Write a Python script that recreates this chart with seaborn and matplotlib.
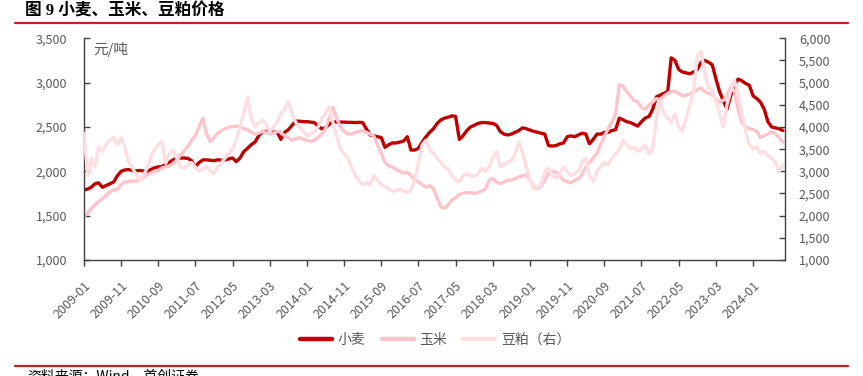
import numpy as np
import pandas as pd
import seaborn as sns
import matplotlib.pyplot as plt
import matplotlib.dates as mdates
from matplotlib.ticker import FuncFormatter, MultipleLocator
from matplotlib.lines import Line2D

# DATA (monthly, 2009-01 .. 2024-09, yuan/ton)
wheat = [1790, 1800, 1820, 1860, 1870, 1820, 1840, 1860, 1880, 1950, 2000, 2015,
         2020, 2010, 2005, 2010, 2005, 2000, 2020, 2040, 2050, 2052, 2080, 2100,
         2130, 2146, 2150, 2150, 2146, 2120, 2050, 2100, 2128, 2130, 2125, 2120,
         2130, 2125, 2130, 2140, 2150, 2110, 2150, 2222, 2260, 2300, 2330, 2400,
         2447, 2450, 2450, 2440, 2445, 2360, 2440, 2470, 2520, 2567, 2565, 2560,
         2560, 2555, 2550, 2510, 2480, 2490, 2530, 2560, 2555, 2555, 2555, 2552,
         2552, 2550, 2552, 2550, 2480, 2410, 2400, 2390, 2380, 2270, 2300, 2320,
         2320, 2330, 2340, 2390, 2240, 2240, 2260, 2330, 2390, 2440, 2480, 2540,
         2580, 2600, 2610, 2625, 2620, 2360, 2400, 2460, 2500, 2520, 2540, 2550,
         2550, 2545, 2540, 2520, 2450, 2420, 2410, 2420, 2440, 2460, 2490, 2480,
         2465, 2450, 2440, 2430, 2420, 2290, 2285, 2290, 2310, 2320, 2390, 2400,
         2390, 2410, 2430, 2420, 2310, 2360, 2420, 2420, 2440, 2440, 2460, 2470,
         2600, 2580, 2560, 2550, 2530, 2510, 2560, 2600, 2620, 2700, 2840, 2860,
         2880, 2900, 3280, 3250, 3150, 3120, 3110, 3100, 3120, 3150, 3230, 3250,
         3230, 3200, 3050, 2900, 2800, 2700, 2850, 2980, 3040, 3020, 2990, 2970,
         2850, 2820, 2780, 2700, 2560, 2500, 2490, 2480, 2460]
corn = [1490, 1530, 1580, 1620, 1660, 1690, 1730, 1770, 1790, 1795, 1850, 1880,
        1885, 1890, 1890, 1895, 1930, 1958, 1980, 2000, 2010, 2040, 2050, 2060,
        2090, 2130, 2180, 2230, 2280, 2350, 2400, 2500, 2598, 2420, 2334, 2380,
        2430, 2460, 2480, 2500, 2504, 2510, 2500, 2480, 2470, 2440, 2420, 2430,
        2450, 2440, 2420, 2430, 2450, 2440, 2400, 2380, 2350, 2370, 2380, 2360,
        2350, 2340, 2350, 2380, 2420, 2480, 2600, 2720, 2600, 2500, 2450, 2420,
        2420, 2440, 2450, 2460, 2440, 2420, 2400, 2300, 2200, 2100, 2060, 2050,
        2020, 2000, 1980, 1990, 1950, 1900, 1880, 1850, 1820, 1840, 1800, 1700,
        1600, 1583, 1620, 1680, 1700, 1740, 1750, 1760, 1760, 1750, 1760, 1780,
        1800, 1900, 1920, 1880, 1860, 1880, 1900, 1900, 1920, 1940, 1950, 1960,
        1900, 1820, 1808, 1830, 1900, 1980, 2000, 1990, 1950, 1900, 1880, 1870,
        1900, 1920, 1960, 2050, 2100, 2150, 2200, 2300, 2400, 2480, 2550, 2650,
        2980, 2960, 2900, 2850, 2800, 2780, 2720, 2700, 2750, 2780, 2820, 2800,
        2850, 2880, 2900, 2900, 2880, 2850, 2860, 2870, 2900, 2920, 2940, 2900,
        2880, 2860, 2820, 2780, 2800, 2850, 2950, 2900, 2700, 2550, 2500, 2480,
        2470, 2450, 2380, 2400, 2420, 2450, 2420, 2380, 2330]
soymeal = [3860, 2900, 3300, 3100, 3550, 3450, 3600, 3700, 3760, 3600, 3760, 3550,
           3220, 3070, 2950, 2800, 2900, 3068, 3300, 3500, 3600, 3669, 3180, 3400,
           3480, 3300, 3100, 3068, 3143, 3200, 3100, 3000, 3050, 3100, 3000, 2950,
           3100, 3200, 3300, 3400, 3500, 3700, 4000, 4300, 4684, 4200, 4000, 4100,
           4150, 4050, 3900, 4000, 4100, 4300, 4400, 4572, 4300, 4100, 4000, 3900,
           3800, 3850, 3900, 4000, 4200, 4300, 4459, 4100, 3800, 3500, 3400, 3300,
           3100, 2900, 2800, 2692, 2750, 2700, 2900, 2800, 2700, 2650, 2600, 2550,
           2560, 2600, 2550, 2520, 2580, 2800, 3200, 3600, 3700, 3500, 3400, 3300,
           3200, 3100, 3050, 2900, 2800, 2767, 2900, 2950, 2900, 2880, 2950, 3068,
           3000, 3100, 3300, 3444, 3100, 3150, 3200, 3250, 3400, 3669, 3400, 3100,
           2800, 2600, 2650, 2700, 3000, 3068, 2900, 2850, 2950, 3100, 3000, 2900,
           2950, 3000, 3200, 3293, 2900, 2767, 3000, 3100, 3200, 3150, 3300, 3400,
           3500, 3700, 3600, 3500, 3550, 3450, 3500, 3600, 3400, 3500, 4200, 4600,
           4300, 4200, 4100, 4300, 4000, 3900, 4200, 4500, 4800, 5600, 5697, 5200,
           4900, 4800, 4600, 4300, 4000, 4500, 4800, 5059, 4700, 4300, 3900, 3600,
           3500, 3550, 3400, 3450, 3350, 3300, 3200, 3000, 3140]
months = pd.date_range("2009-01-01", periods=len(wheat), freq="MS")
tick_labels = pd.date_range("2009-01-01", "2024-01-01", freq="10MS")

df = pd.DataFrame({"date": months, "小麦": wheat, "玉米": corn, "豆粕": soymeal})

# STYLE
sns.set_style("white")
plt.rcParams["font.family"] = ["Noto Sans CJK SC", "DejaVu Sans"]
grey = "#595959"
c_wheat, c_corn, c_soy = "#C00000", "#FFC4CB", "#FFDEE2"

fig = plt.figure(figsize=(8.63, 3.76), dpi=100)
ax = fig.add_axes([84 / 863, 1 - 260 / 376, 701 / 863, 221.7 / 376])
ax2 = ax.twinx()

sns.lineplot(data=df, x="date", y="小麦", ax=ax, color=c_wheat, linewidth=2.4)
sns.lineplot(data=df, x="date", y="玉米", ax=ax, color=c_corn, linewidth=2.4)
sns.lineplot(data=df, x="date", y="豆粕", ax=ax2, color=c_soy, linewidth=2.4)

ax.set_xlim(pd.Timestamp("2009-01-01"), pd.Timestamp("2024-09-18"))
ax.set_ylim(1000, 3500)
ax2.set_ylim(1000, 6000)
ax.yaxis.set_major_locator(MultipleLocator(500))
ax2.yaxis.set_major_locator(MultipleLocator(500))
fmt = FuncFormatter(lambda v, p: f"{int(v):,}")
ax.yaxis.set_major_formatter(fmt)
ax2.yaxis.set_major_formatter(fmt)

ax.set_xticks(tick_labels)
ax.xaxis.set_major_formatter(mdates.DateFormatter("%Y-%m"))
for lab in ax.get_xticklabels():
    lab.set_rotation(45)
    lab.set_ha("right")
    lab.set_va("top")
    lab.set_rotation_mode("anchor")

ax.set_xlabel("")
ax.set_ylabel("")
ax2.set_ylabel("")

for a in (ax, ax2):
    a.spines["top"].set_visible(False)
    for s in ("left", "right", "bottom"):
        a.spines[s].set_color("#404040")
        a.spines[s].set_linewidth(1.0)
ax.spines["right"].set_visible(False)
ax2.spines["left"].set_visible(False)
ax2.spines["bottom"].set_visible(False)

ax.tick_params(axis="y", direction="in", length=4, width=1, color="#404040",
               labelsize=9, labelcolor=grey, pad=12, left=True)
ax2.tick_params(axis="y", direction="in", length=4, width=1, color="#404040",
                labelsize=9, labelcolor=grey, pad=10, right=True)
ax.tick_params(axis="x", direction="out", length=4, width=1, color="#404040",
               labelsize=9, labelcolor=grey, pad=10, bottom=True)

ax.text(0.013, 0.985, "元/吨", transform=ax.transAxes, ha="left", va="top",
        fontsize=10.5, color=grey)

# LEGEND
handles = [Line2D([], [], color=c, linewidth=3.2) for c in (c_wheat, c_corn, c_soy)]
fig.legend(handles, ["小麦", "玉米", "豆粕（右）"], loc="center",
           bbox_to_anchor=(435 / 863, 1 - 340 / 376), ncol=3, frameon=False,
           fontsize=10, labelcolor=grey, handlelength=2.3, handletextpad=0.4,
           columnspacing=1.2)

# TITLE, RULES, SOURCE
fig.text(25 / 863, 1 - 12 / 376, "图 9 小麦、玉米、豆粕价格", ha="left", va="center",
         fontsize=12, fontweight="bold", color="black",
         family=["Liberation Serif", "Noto Sans CJK SC"])
fig.add_artist(Line2D([15 / 863, 848 / 863], [1 - 22.5 / 376] * 2,
                      color="#C8202A", linewidth=1.6))
fig.add_artist(Line2D([15 / 863, 848 / 863], [1 - 366 / 376] * 2,
                      color="#C8202A", linewidth=1.6))
fig.text(27 / 863, 1 - 369 / 376, "资料来源：Wind，首创证券", ha="left", va="top",
         fontsize=10, color="black")

fig.savefig("out.png", dpi=100)
